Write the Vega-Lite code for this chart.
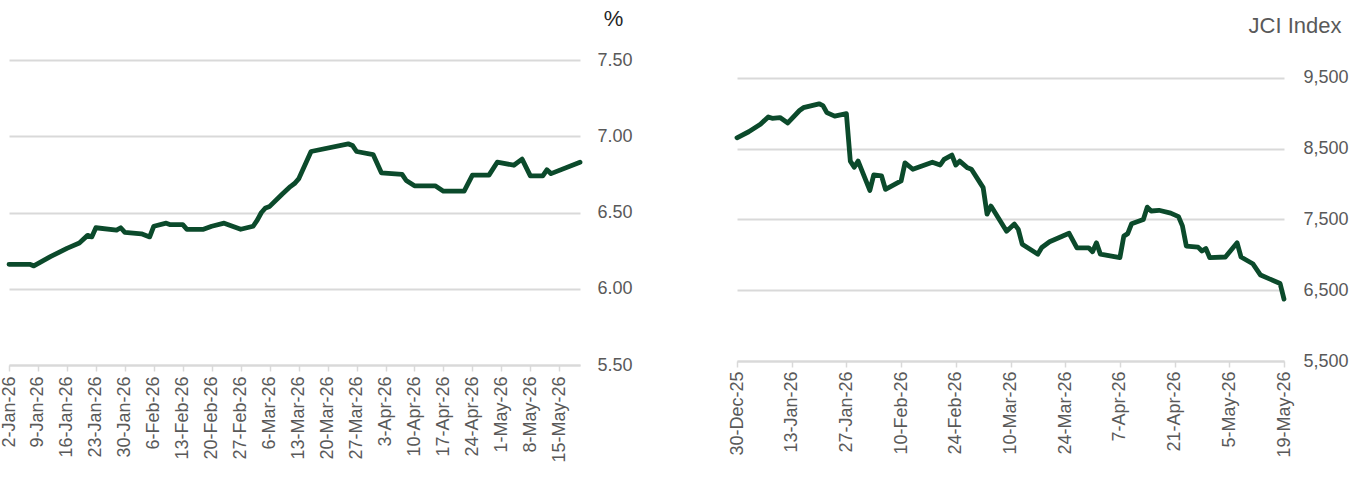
{
  "$schema": "https://vega.github.io/schema/vega-lite/v6.json",
  "background": "white",
  "padding": {"left": 0, "top": 7, "right": 5, "bottom": 0},
  "bounds": "flush",
  "spacing": 157,
  "config": {
    "view": {"stroke": null},
    "font": "Liberation Sans",
    "axis": {
      "labelFont": "Liberation Sans",
      "labelFontSize": 18,
      "labelColor": "#595959",
      "titleFont": "Liberation Sans",
      "titleFontWeight": "normal",
      "gridColor": "#d9d9d9",
      "gridWidth": 2,
      "domainColor": "#d9d9d9",
      "domainWidth": 2,
      "tickColor": "#d9d9d9",
      "tickWidth": 1.5,
      "labelOverlap": false,
      "labelFlush": false
    }
  },
  "datasets": {
    "yield": [
      {"date": "2026-01-02T00:00:00", "value": 6.16},
      {"date": "2026-01-05T00:00:00", "value": 6.16},
      {"date": "2026-01-07T00:00:00", "value": 6.16},
      {"date": "2026-01-08T00:00:00", "value": 6.15},
      {"date": "2026-01-12T00:00:00", "value": 6.21},
      {"date": "2026-01-16T00:00:00", "value": 6.265},
      {"date": "2026-01-19T00:00:00", "value": 6.30},
      {"date": "2026-01-21T00:00:00", "value": 6.35},
      {"date": "2026-01-22T00:00:00", "value": 6.34},
      {"date": "2026-01-23T00:00:00", "value": 6.40},
      {"date": "2026-01-28T00:00:00", "value": 6.385},
      {"date": "2026-01-29T00:00:00", "value": 6.40},
      {"date": "2026-01-30T00:00:00", "value": 6.37},
      {"date": "2026-02-03T00:00:00", "value": 6.36},
      {"date": "2026-02-05T00:00:00", "value": 6.34},
      {"date": "2026-02-06T00:00:00", "value": 6.41},
      {"date": "2026-02-09T00:00:00", "value": 6.43},
      {"date": "2026-02-10T00:00:00", "value": 6.42},
      {"date": "2026-02-13T00:00:00", "value": 6.42},
      {"date": "2026-02-14T00:00:00", "value": 6.39},
      {"date": "2026-02-18T00:00:00", "value": 6.39},
      {"date": "2026-02-20T00:00:00", "value": 6.41},
      {"date": "2026-02-23T00:00:00", "value": 6.43},
      {"date": "2026-02-25T00:00:00", "value": 6.41},
      {"date": "2026-02-27T00:00:00", "value": 6.39},
      {"date": "2026-03-02T00:00:00", "value": 6.41},
      {"date": "2026-03-03T00:00:00", "value": 6.45},
      {"date": "2026-03-04T00:00:00", "value": 6.50},
      {"date": "2026-03-05T00:00:00", "value": 6.53},
      {"date": "2026-03-06T00:00:00", "value": 6.54},
      {"date": "2026-03-09T00:00:00", "value": 6.62},
      {"date": "2026-03-11T00:00:00", "value": 6.67},
      {"date": "2026-03-12T00:00:00", "value": 6.69},
      {"date": "2026-03-13T00:00:00", "value": 6.72},
      {"date": "2026-03-16T00:00:00", "value": 6.90},
      {"date": "2026-03-25T00:00:00", "value": 6.95},
      {"date": "2026-03-26T00:00:00", "value": 6.94},
      {"date": "2026-03-27T00:00:00", "value": 6.90},
      {"date": "2026-03-31T00:00:00", "value": 6.88},
      {"date": "2026-04-02T00:00:00", "value": 6.76},
      {"date": "2026-04-07T00:00:00", "value": 6.75},
      {"date": "2026-04-08T00:00:00", "value": 6.71},
      {"date": "2026-04-10T00:00:00", "value": 6.675},
      {"date": "2026-04-15T00:00:00", "value": 6.675},
      {"date": "2026-04-17T00:00:00", "value": 6.64},
      {"date": "2026-04-22T00:00:00", "value": 6.64},
      {"date": "2026-04-24T00:00:00", "value": 6.745},
      {"date": "2026-04-28T00:00:00", "value": 6.745},
      {"date": "2026-04-30T00:00:00", "value": 6.83},
      {"date": "2026-05-04T00:00:00", "value": 6.81},
      {"date": "2026-05-06T00:00:00", "value": 6.85},
      {"date": "2026-05-08T00:00:00", "value": 6.74},
      {"date": "2026-05-11T00:00:00", "value": 6.74},
      {"date": "2026-05-12T00:00:00", "value": 6.78},
      {"date": "2026-05-13T00:00:00", "value": 6.755},
      {"date": "2026-05-20T00:00:00", "value": 6.83}
    ],
    "jci": [
      {"date": "2025-12-30T00:00:00", "value": 8655},
      {"date": "2026-01-02T00:00:00", "value": 8740},
      {"date": "2026-01-05T00:00:00", "value": 8845},
      {"date": "2026-01-07T00:00:00", "value": 8950},
      {"date": "2026-01-08T00:00:00", "value": 8930},
      {"date": "2026-01-10T00:00:00", "value": 8940},
      {"date": "2026-01-12T00:00:00", "value": 8865},
      {"date": "2026-01-15T00:00:00", "value": 9040},
      {"date": "2026-01-16T00:00:00", "value": 9080},
      {"date": "2026-01-20T00:00:00", "value": 9135},
      {"date": "2026-01-21T00:00:00", "value": 9110},
      {"date": "2026-01-22T00:00:00", "value": 9010},
      {"date": "2026-01-24T00:00:00", "value": 8960},
      {"date": "2026-01-27T00:00:00", "value": 8995},
      {"date": "2026-01-28T00:00:00", "value": 8325},
      {"date": "2026-01-29T00:00:00", "value": 8240},
      {"date": "2026-01-30T00:00:00", "value": 8325},
      {"date": "2026-02-02T00:00:00", "value": 7910},
      {"date": "2026-02-03T00:00:00", "value": 8130},
      {"date": "2026-02-05T00:00:00", "value": 8115},
      {"date": "2026-02-06T00:00:00", "value": 7925},
      {"date": "2026-02-10T00:00:00", "value": 8045},
      {"date": "2026-02-11T00:00:00", "value": 8300},
      {"date": "2026-02-13T00:00:00", "value": 8210},
      {"date": "2026-02-18T00:00:00", "value": 8310},
      {"date": "2026-02-20T00:00:00", "value": 8270},
      {"date": "2026-02-21T00:00:00", "value": 8350},
      {"date": "2026-02-23T00:00:00", "value": 8410},
      {"date": "2026-02-24T00:00:00", "value": 8270},
      {"date": "2026-02-25T00:00:00", "value": 8325},
      {"date": "2026-02-27T00:00:00", "value": 8230},
      {"date": "2026-02-28T00:00:00", "value": 8210},
      {"date": "2026-03-03T00:00:00", "value": 7950},
      {"date": "2026-03-04T00:00:00", "value": 7575},
      {"date": "2026-03-05T00:00:00", "value": 7690},
      {"date": "2026-03-09T00:00:00", "value": 7335},
      {"date": "2026-03-11T00:00:00", "value": 7435},
      {"date": "2026-03-12T00:00:00", "value": 7360},
      {"date": "2026-03-13T00:00:00", "value": 7150},
      {"date": "2026-03-17T00:00:00", "value": 7010},
      {"date": "2026-03-18T00:00:00", "value": 7105},
      {"date": "2026-03-20T00:00:00", "value": 7185},
      {"date": "2026-03-25T00:00:00", "value": 7305},
      {"date": "2026-03-27T00:00:00", "value": 7100},
      {"date": "2026-03-30T00:00:00", "value": 7100},
      {"date": "2026-03-31T00:00:00", "value": 7045},
      {"date": "2026-04-01T00:00:00", "value": 7170},
      {"date": "2026-04-02T00:00:00", "value": 7010},
      {"date": "2026-04-07T00:00:00", "value": 6960},
      {"date": "2026-04-08T00:00:00", "value": 7265},
      {"date": "2026-04-09T00:00:00", "value": 7300},
      {"date": "2026-04-10T00:00:00", "value": 7440},
      {"date": "2026-04-13T00:00:00", "value": 7500},
      {"date": "2026-04-14T00:00:00", "value": 7675},
      {"date": "2026-04-15T00:00:00", "value": 7620},
      {"date": "2026-04-17T00:00:00", "value": 7630},
      {"date": "2026-04-20T00:00:00", "value": 7590},
      {"date": "2026-04-22T00:00:00", "value": 7540},
      {"date": "2026-04-23T00:00:00", "value": 7410},
      {"date": "2026-04-24T00:00:00", "value": 7125},
      {"date": "2026-04-27T00:00:00", "value": 7110},
      {"date": "2026-04-28T00:00:00", "value": 7055},
      {"date": "2026-04-29T00:00:00", "value": 7090},
      {"date": "2026-04-30T00:00:00", "value": 6960},
      {"date": "2026-05-04T00:00:00", "value": 6970},
      {"date": "2026-05-07T00:00:00", "value": 7170},
      {"date": "2026-05-08T00:00:00", "value": 6970},
      {"date": "2026-05-11T00:00:00", "value": 6875},
      {"date": "2026-05-13T00:00:00", "value": 6715},
      {"date": "2026-05-18T00:00:00", "value": 6595},
      {"date": "2026-05-19T00:00:00", "value": 6375}
    ]
  },
  "hconcat": [
    {
      "width": 571,
      "height": 305,
      "data": {"name": "yield"},
      "mark": {"type": "line", "color": "#0b4a2b", "strokeWidth": 4.8, "strokeJoin": "round", "strokeCap": "round"},
      "encoding": {
        "x": {
          "field": "date", "type": "temporal",
          "scale": {"domain": [{"year": 2026, "month": 1, "date": 2}, {"year": 2026, "month": 5, "date": 20}]},
          "axis": {
            "title": null, "grid": false, "format": "%-d-%b-%y", "labelAngle": -90,
            "tickSize": 6, "labelPadding": 5,
            "values": [
              {"year": 2026, "month": 1, "date": 2}, {"year": 2026, "month": 1, "date": 9},
              {"year": 2026, "month": 1, "date": 16}, {"year": 2026, "month": 1, "date": 23},
              {"year": 2026, "month": 1, "date": 30}, {"year": 2026, "month": 2, "date": 6},
              {"year": 2026, "month": 2, "date": 13}, {"year": 2026, "month": 2, "date": 20},
              {"year": 2026, "month": 2, "date": 27}, {"year": 2026, "month": 3, "date": 6},
              {"year": 2026, "month": 3, "date": 13}, {"year": 2026, "month": 3, "date": 20},
              {"year": 2026, "month": 3, "date": 27}, {"year": 2026, "month": 4, "date": 3},
              {"year": 2026, "month": 4, "date": 10}, {"year": 2026, "month": 4, "date": 17},
              {"year": 2026, "month": 4, "date": 24}, {"year": 2026, "month": 5, "date": 1},
              {"year": 2026, "month": 5, "date": 8}, {"year": 2026, "month": 5, "date": 15}
            ]
          }
        },
        "y": {
          "field": "value", "type": "quantitative",
          "scale": {"domain": [5.5, 7.5], "nice": false, "zero": false},
          "axis": {
            "orient": "right", "values": [5.5, 6, 6.5, 7, 7.5], "format": ".2f",
            "domain": false, "ticks": false, "labelPadding": 17,
            "title": "%", "titleAngle": 0, "titleX": 33, "titleY": -42,
            "titleAlign": "center", "titleBaseline": "middle", "titleFontSize": 22, "titleColor": "#262626"
          }
        }
      }
    },
    {
      "width": 547,
      "height": 301,
      "data": {"name": "jci"},
      "mark": {"type": "line", "color": "#0b4a2b", "strokeWidth": 4.8, "strokeJoin": "round", "strokeCap": "round"},
      "encoding": {
        "x": {
          "field": "date", "type": "temporal",
          "scale": {"domain": [{"year": 2025, "month": 12, "date": 30}, {"year": 2026, "month": 5, "date": 19}]},
          "axis": {
            "title": null, "grid": false, "format": "%-d-%b-%y", "labelAngle": -90,
            "tickSize": 6, "labelPadding": 4,
            "values": [
              {"year": 2025, "month": 12, "date": 30}, {"year": 2026, "month": 1, "date": 13},
              {"year": 2026, "month": 1, "date": 27}, {"year": 2026, "month": 2, "date": 10},
              {"year": 2026, "month": 2, "date": 24}, {"year": 2026, "month": 3, "date": 10},
              {"year": 2026, "month": 3, "date": 24}, {"year": 2026, "month": 4, "date": 7},
              {"year": 2026, "month": 4, "date": 21}, {"year": 2026, "month": 5, "date": 5},
              {"year": 2026, "month": 5, "date": 19}
            ]
          }
        },
        "y": {
          "field": "value", "type": "quantitative",
          "scale": {"domain": [5500, 9754], "nice": false, "zero": false},
          "axis": {
            "orient": "right", "values": [5500, 6500, 7500, 8500, 9500], "format": ",.0f",
            "domain": false, "ticks": false, "labelPadding": 19,
            "title": "JCI Index", "titleAngle": 0, "titleX": 57, "titleY": -35,
            "titleAlign": "right", "titleBaseline": "middle", "titleFontSize": 22, "titleColor": "#595959"
          }
        }
      }
    }
  ]
}
